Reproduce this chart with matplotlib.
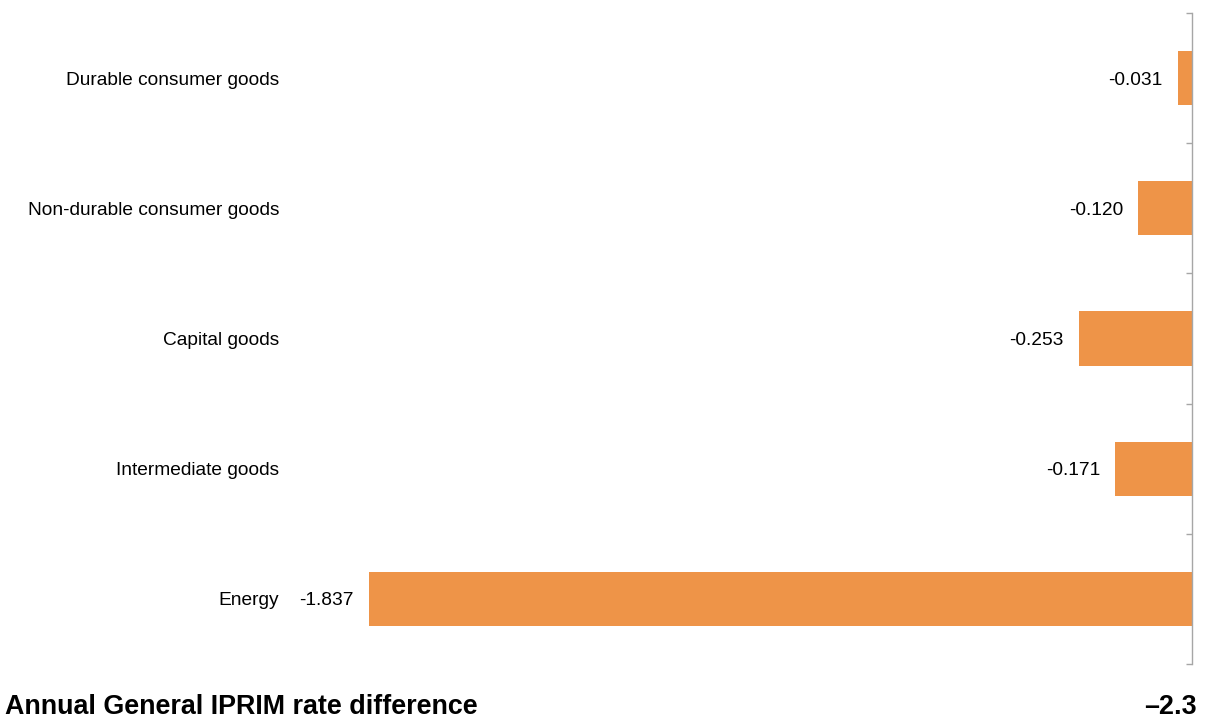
import matplotlib.pyplot as plt
import numpy as np

plt.rcParams['font.family'] = ['Liberation Sans', 'DejaVu Sans']

categories = ['Energy', 'Intermediate goods', 'Capital goods',
              'Non-durable consumer goods', 'Durable consumer goods']
values = [-1.837, -0.171, -0.253, -0.120, -0.031]
labels = ['-1.837', '-0.171', '-0.253', '-0.120', '-0.031']
title = 'Annual General IPRIM rate difference'
total = '\u20132.3'

W, H = 1206, 718
fig = plt.figure(figsize=(W / 100, H / 100), dpi=100)
ax = fig.add_axes([296 / W, (H - 664) / H, (1192 - 296) / W, (664 - 13) / H])

y = np.arange(len(categories))
ax.barh(y, values, height=0.415, color='#EE9448')
ax.set_xlim(-2, 0)
ax.set_ylim(-0.5, len(categories) - 0.5)

for yi, v, lab in zip(y, values, labels):
    ax.annotate(lab, (v, yi), xytext=(-11, 0), textcoords='offset points',
                ha='right', va='center_baseline', fontsize=13.8)

for s in ['top', 'left', 'bottom']:
    ax.spines[s].set_visible(False)
ax.spines['right'].set_color('#A6A6A6')
ax.spines['right'].set_linewidth(1.0)

ax.set_xticks([])
ax.set_yticks(y)
ax.set_yticklabels(categories, fontsize=13.8)
ax.tick_params(axis='y', which='major', length=0, pad=12)
ax.set_yticks(np.arange(len(categories) + 1) - 0.5, minor=True)
ax.tick_params(axis='y', which='minor', left=False, right=True, direction='in',
               length=4.5, color='#A6A6A6', width=1.0)

fig.text(5 / W, 4 / H, title, fontsize=19.4, fontweight='bold', ha='left', va='baseline')
fig.text(1197 / W, 4 / H, total, fontsize=19.4, fontweight='bold', ha='right', va='baseline')

fig.savefig('out.png', dpi=100)
